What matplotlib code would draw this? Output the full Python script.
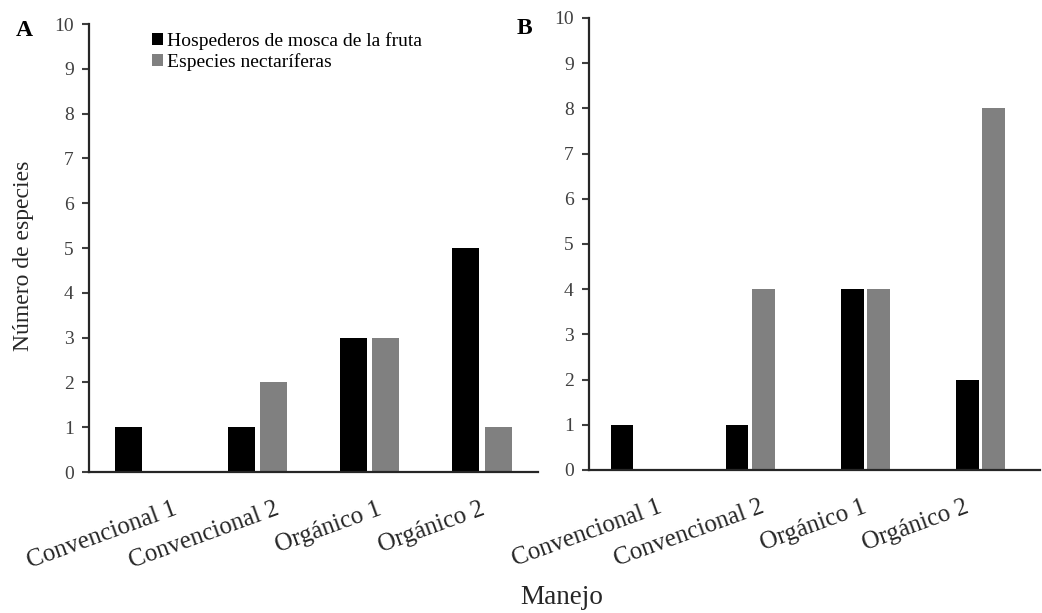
import matplotlib
matplotlib.use("Agg")
import matplotlib.pyplot as plt
import numpy as np

# Data
categories = ["Convencional 1", "Convencional 2", "Orgánico 1", "Orgánico 2"]
hosp_a = [1, 1, 3, 5]
nect_a = [0, 2, 3, 1]
hosp_b = [1, 1, 4, 2]
nect_b = [0, 4, 4, 8]
yticks = list(range(0, 11))

plt.rcParams['font.family'] = ['Liberation Serif', 'DejaVu Serif']

fig = plt.figure(figsize=(10.42, 6.13), dpi=100)
ax_a = fig.add_axes([0.0854, 0.2300, 0.4309, 0.7308])
ax_b = fig.add_axes([0.5653, 0.2333, 0.4328, 0.7374])

x = np.arange(len(categories))


def style_axis(ax, xlim, label_pos):
    ax.set_xlim(*xlim)
    ax.set_ylim(0, 10)
    ax.set_yticks(yticks)
    ax.tick_params(axis='y', direction='out', length=5, width=1.5,
                   labelsize=14, pad=6, colors='#404040', labelcolor='#404040')
    ax.tick_params(axis='x', length=0, labelsize=18, pad=19)
    for side in ['top', 'right']:
        ax.spines[side].set_visible(False)
    ax.spines['left'].set_linewidth(1.6)
    ax.spines['bottom'].set_linewidth(1.6)
    ax.spines['left'].set_color('#262626')
    ax.spines['bottom'].set_color('#262626')
    ax.set_xticks(label_pos)
    ax.set_xticklabels(categories, rotation=20, ha='right',
                       rotation_mode='anchor', color='#262626')


# Panel A
w_a, off_a = 0.24, 0.145
ax_a.bar(x - off_a, hosp_a, w_a, color='black', label='Hospederos de mosca de la fruta')
ax_a.bar(x + off_a, nect_a, w_a, color='#808080', label='Especies nectaríferas')
style_axis(ax_a, (-0.5, 3.5), 0.24 + 0.915 * x)
ax_a.set_ylabel('Número de especies', fontsize=17, color='#262626')
ax_a.yaxis.set_label_coords(-0.122, 0.482)
ax_a.legend(loc='upper left', bbox_to_anchor=(0.115, 1.008), frameon=False,
            fontsize=14, handlelength=0.55, handleheight=0.55,
            handletextpad=0.2, labelspacing=0.15, borderaxespad=0.2)

# Panel B
w_b, off_b = 0.195, 0.113
ax_b.bar(x - off_b, hosp_b, w_b, color='black')
ax_b.bar(x + off_b, nect_b, w_b, color='#808080')
style_axis(ax_b, (-0.4, 3.516), 0.19 + 0.89 * x)

fig.text(24 / 1042, 1 - 30 / 613, 'A', fontsize=17, fontweight='bold',
         ha='center', va='center')
fig.text(524 / 1042, 1 - 29 / 613, 'B', fontsize=17, fontweight='bold',
         ha='center', va='center')
fig.text(562 / 1042, 1 - 598 / 613, 'Manejo', fontsize=19.5,
         ha='center', va='center', color='#262626')

fig.savefig('out.png', dpi=100)
